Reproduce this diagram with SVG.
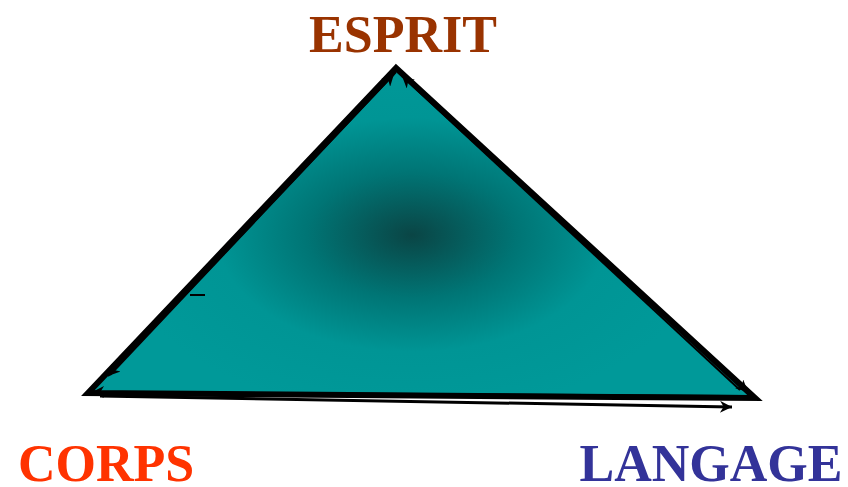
<svg xmlns="http://www.w3.org/2000/svg" width="848" height="487" viewBox="0 0 848 487">
<defs>
<radialGradient id="g" gradientUnits="userSpaceOnUse" cx="412" cy="235" r="300" gradientTransform="translate(412 235) scale(1 0.6) translate(-412 -235)">
<stop offset="0" stop-color="#0a4545"/>
<stop offset="0.35" stop-color="#007575"/>
<stop offset="0.65" stop-color="#009595"/>
<stop offset="1" stop-color="#009999"/>
</radialGradient>
<marker id="ah2" viewBox="0 0 10 10" refX="10" refY="5" markerWidth="16" markerHeight="12" orient="auto" markerUnits="userSpaceOnUse">
<path d="M0,0 L10,5 L0,10 L3,5 Z" fill="#000"/>
</marker>
<style>
.lbl{font-family:"Liberation Serif","Times New Roman",serif;font-weight:bold;font-size:52px;text-anchor:middle}
.c{fill:none;stroke:#000;stroke-width:2}
</style>
</defs>
<g id="triangle">
<polygon points="396,68 88,393 755,398" fill="url(#g)" stroke="#000" stroke-width="6" stroke-linejoin="miter"/>
</g>
<g id="connectors">
<line class="c" x1="110" y1="375" x2="394" y2="74" marker-end="url(#ah2)"/>
<line class="c" x1="740" y1="390" x2="402" y2="76" marker-end="url(#ah2)"/>
<line class="c" x1="396" y1="72" x2="108" y2="376" marker-end="url(#ah2)"/>
<line class="c" x1="400" y1="72" x2="748" y2="392" marker-end="url(#ah2)"/>
<line class="c" x1="740" y1="396" x2="92" y2="392" marker-end="url(#ah2)"/>
<line x1="100" y1="396" x2="732" y2="407" stroke="#000" stroke-width="3" marker-end="url(#ah2)"/>
<line x1="190" y1="295" x2="205" y2="295" stroke="#000" stroke-width="2"/>
</g>
<g id="esprit"><text class="lbl" x="403" y="52" fill="#993300">ESPRIT</text></g>
<g id="corps"><text class="lbl" x="106" y="481" fill="#ff3300">CORPS</text></g>
<g id="langage"><text class="lbl" x="711" y="481" fill="#333399">LANGAGE</text></g>
</svg>
